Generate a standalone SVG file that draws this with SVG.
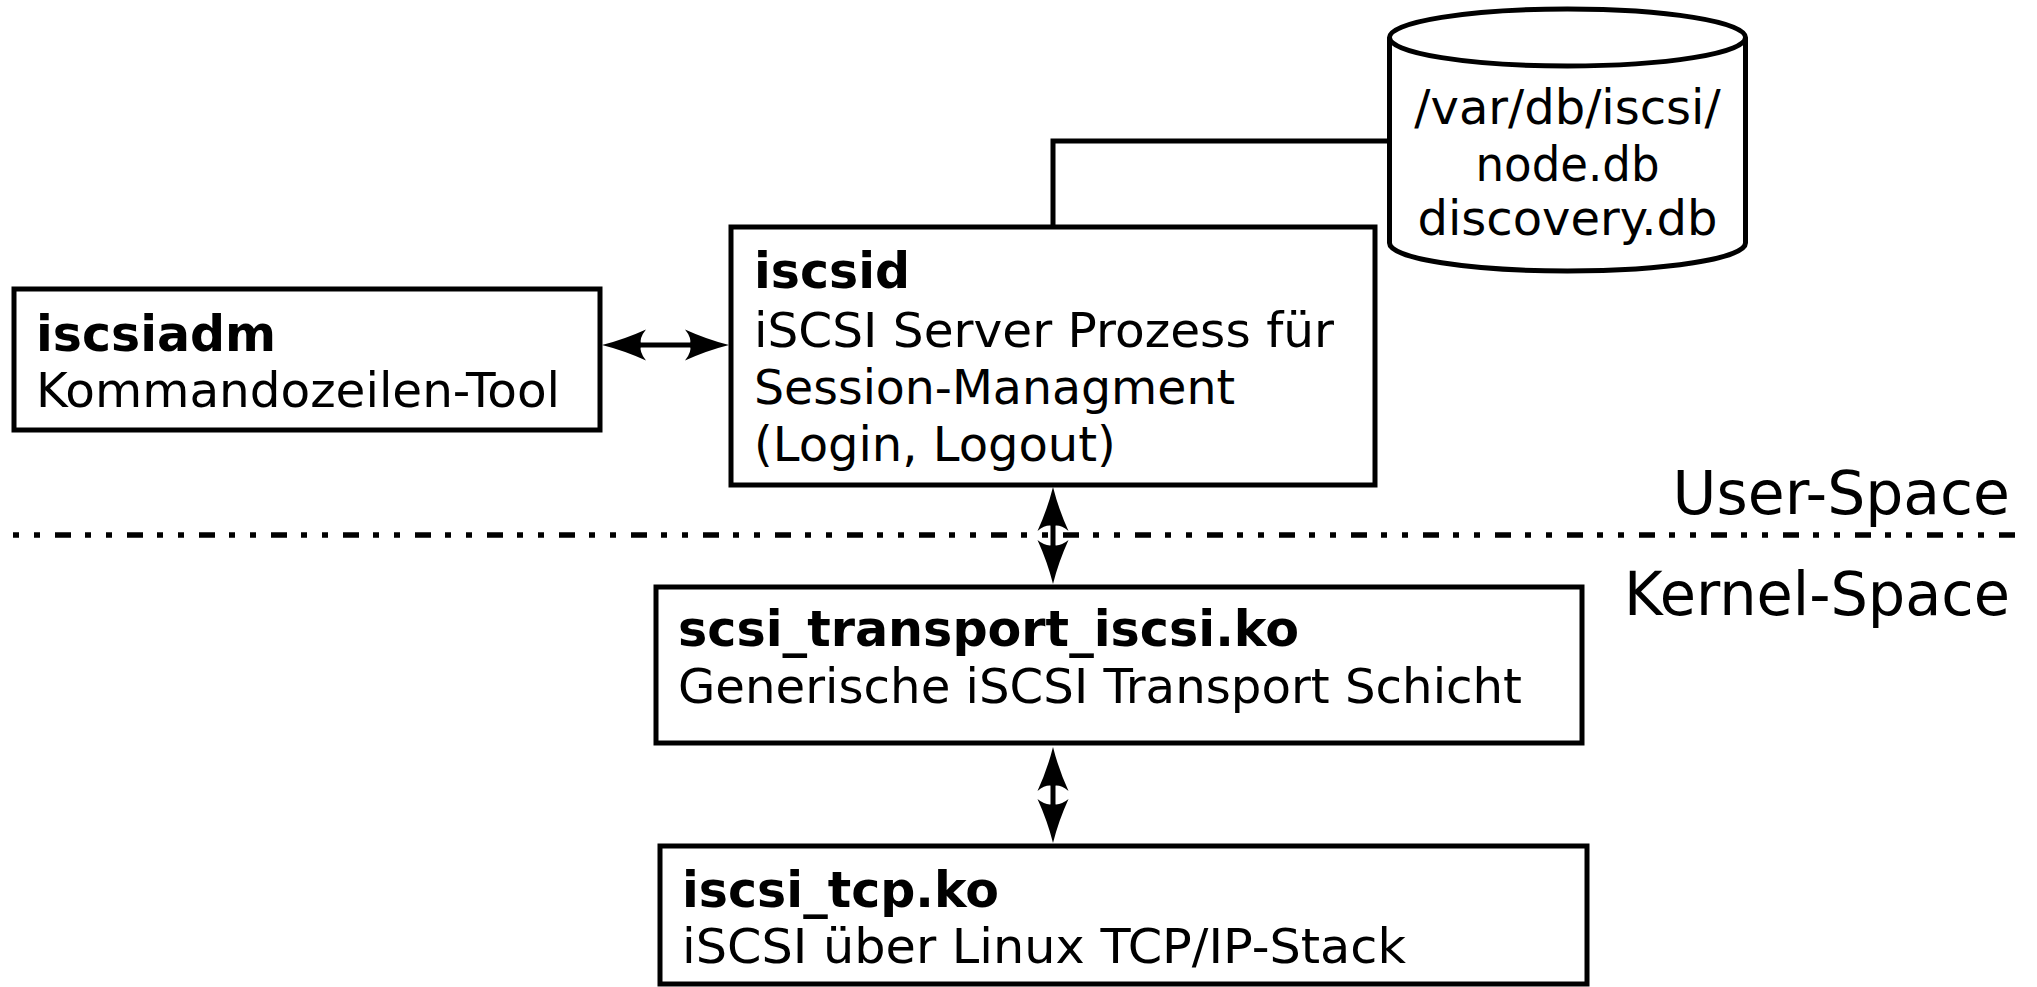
<svg xmlns="http://www.w3.org/2000/svg" width="2037" height="987" viewBox="0 0 2037 987">
  <style>
    .box { fill: #ffffff; stroke: #000000; stroke-width: 5; }
    .wire { fill: none; stroke: #000000; stroke-width: 5; }
    .txt { font-family: "DejaVu Sans", "Verdana", sans-serif; font-size: 48px; fill: #000000; }
    .bold { font-weight: bold; font-size: 49px; }
    .layer { font-family: "DejaVu Sans", "Verdana", sans-serif; font-size: 60px; fill: #000000; text-anchor: end; }
    .sep { fill: none; stroke: #000000; stroke-width: 5.5; stroke-dasharray: 6 15 6 15 16 14; }
  </style>
  <defs>
    <!-- concave arrowhead; tip sits 30px beyond the line end -->
    <marker id="head" viewBox="0 0 44 32" refX="14" refY="16" markerWidth="44" markerHeight="32" markerUnits="userSpaceOnUse" orient="auto-start-reverse">
      <path d="M44,16 Q22,10.5 0,0.5 Q7,9 5,16 Q7,23 0,31.5 Q22,21.5 44,16 Z" fill="#000000"/>
    </marker>
  </defs>

  <rect width="2037" height="987" fill="#ffffff"/>

  <!-- user / kernel space separator -->
  <g id="separator">
    <path class="sep" d="M13,535 H2015"/>
    <text class="layer" x="2010" y="514">User-Space</text>
    <text class="layer" x="2010" y="615" textLength="386" lengthAdjust="spacingAndGlyphs">Kernel-Space</text>
  </g>

  <!-- connectors -->
  <g id="connectors">
    <path class="wire" d="M1053,227 V141 H1390"/>
    <path class="wire" d="M632,345 H699" marker-start="url(#head)" marker-end="url(#head)"/>
    <path class="wire" d="M1053,517 V554" marker-start="url(#head)" marker-end="url(#head)"/>
    <path class="wire" d="M1053,777 V813" marker-start="url(#head)" marker-end="url(#head)"/>
  </g>

  <g id="iscsiadm">
    <rect class="box" x="14" y="289" width="586" height="141"/>
    <text class="txt bold" x="36" y="351">iscsiadm</text>
    <text class="txt" x="36" y="407" textLength="524" lengthAdjust="spacingAndGlyphs">Kommandozeilen-Tool</text>
  </g>

  <g id="iscsid">
    <rect class="box" x="731" y="227" width="644" height="258"/>
    <text class="txt bold" x="754" y="288">iscsid</text>
    <text class="txt" x="754" y="347" textLength="580" lengthAdjust="spacingAndGlyphs">iSCSI Server Prozess für</text>
    <text class="txt" x="754" y="404" textLength="481" lengthAdjust="spacingAndGlyphs">Session-Managment</text>
    <text class="txt" x="754" y="461">(Login, Logout)</text>
  </g>

  <g id="nodedb">
    <path class="box" d="M1389.5,37.5 V243 A178,28 0 0 0 1745.5,243 V37.5"/>
    <ellipse class="box" cx="1567.5" cy="37.5" rx="178" ry="28.5"/>
    <text class="txt" x="1567.5" y="124" text-anchor="middle">/var/db/iscsi/</text>
    <text class="txt" x="1567.5" y="181" text-anchor="middle" textLength="184" lengthAdjust="spacingAndGlyphs">node.db</text>
    <text class="txt" x="1567.5" y="235" text-anchor="middle">discovery.db</text>
  </g>

  <g id="scsi_transport_iscsi">
    <rect class="box" x="656" y="587" width="926" height="156"/>
    <text class="txt bold" x="678" y="646" textLength="621" lengthAdjust="spacingAndGlyphs">scsi_transport_iscsi.ko</text>
    <text class="txt" x="678" y="703" textLength="844" lengthAdjust="spacingAndGlyphs">Generische iSCSI Transport Schicht</text>
  </g>

  <g id="iscsi_tcp">
    <rect class="box" x="660" y="846" width="927" height="138"/>
    <text class="txt bold" x="682" y="907" textLength="317" lengthAdjust="spacingAndGlyphs">iscsi_tcp.ko</text>
    <text class="txt" x="682" y="963" textLength="724" lengthAdjust="spacingAndGlyphs">iSCSI über Linux TCP/IP-Stack</text>
  </g>
</svg>
